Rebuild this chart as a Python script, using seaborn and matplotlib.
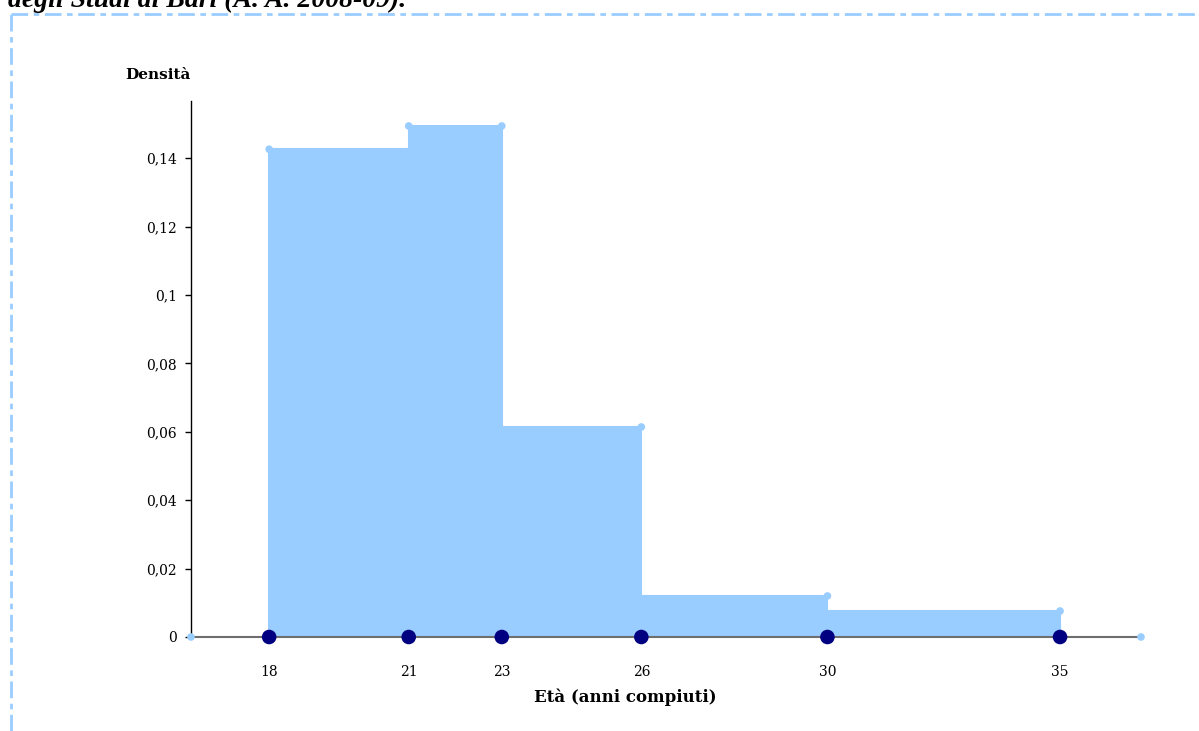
import numpy as np
import pandas as pd
import matplotlib
matplotlib.use("Agg")
import matplotlib.pyplot as plt
from matplotlib.lines import Line2D
from matplotlib.ticker import FuncFormatter
import seaborn as sns

# Data: age classes (bin edges) and densities
edges = [18, 21, 23, 26, 30, 35]
densita = [0.1426, 0.1494, 0.0614, 0.0120, 0.0076]
# light-blue points on the polygon (top corners)
corner_x = [18, 21, 23, 26, 30, 35]
corner_y = [0.1426, 0.1494, 0.1494, 0.0614, 0.0120, 0.0076]
xticks = [18, 21, 23, 26, 30, 35]
yticks = [0, 0.02, 0.04, 0.06, 0.08, 0.10, 0.12, 0.14]
x_range = (16.32, 36.74)
y_top = 0.1567

sns.set_theme(style="white")
plt.rcParams["font.family"] = ["DejaVu Serif"]
plt.rcParams["text.color"] = "black"
plt.rcParams["xtick.color"] = "black"
plt.rcParams["ytick.color"] = "black"

fill_col = "#99CCFF"
navy = "#000080"

fig = plt.figure(figsize=(11.99, 7.31), dpi=100)
ax = fig.add_axes([191 / 1199, 1 - 637 / 731, (1141 - 191) / 1199, (637 - 101) / 731])

df = pd.DataFrame({"eta": edges[:-1], "densita": densita})
sns.histplot(data=df, x="eta", weights="densita", bins=edges, stat="count",
             color=fill_col, alpha=1, edgecolor=fill_col, linewidth=1.5, ax=ax)

# small light-blue dots at the top corners
sns.scatterplot(x=corner_x, y=corner_y, color=fill_col, s=30, edgecolor="none",
                ax=ax, clip_on=False, zorder=3)
# navy dots on the class boundaries
sns.scatterplot(x=edges, y=[0] * len(edges), color=navy, s=110, edgecolor="none",
                ax=ax, clip_on=False, zorder=5)
# end points of the axis
sns.scatterplot(x=list(x_range), y=[0, 0], color=fill_col, s=30, edgecolor="none",
                ax=ax, clip_on=False, zorder=5)

ax.set_xlim(*x_range)
ax.set_ylim(0, y_top)
ax.set_xticks(xticks)
ax.set_yticks(yticks)
ax.yaxis.set_major_formatter(FuncFormatter(lambda v, p: ("%g" % round(v, 2)).replace(".", ",")))
ax.tick_params(axis="y", left=True, length=4, width=1, color="black", labelsize=10, pad=6)
ax.tick_params(axis="x", bottom=False, labelsize=10, pad=14)

for s in ["top", "right"]:
    ax.spines[s].set_visible(False)
ax.spines["left"].set_color("black")
ax.spines["left"].set_linewidth(1)
ax.spines["bottom"].set_color("#6e6e6e")
ax.spines["bottom"].set_linewidth(1.5)
ax.spines["bottom"].set_zorder(4)
ax.set_xlabel("")
ax.set_ylabel("")

fig.text(125 / 1199, 1 - 75 / 731, "Densità", fontsize=11, fontweight="bold",
         ha="left", va="center")
fig.text(625 / 1199, 1 - 697 / 731, "Età (anni compiuti)", fontsize=12,
         fontweight="bold", ha="center", va="center")

# title cut off at the top of the picture
fig.text(8 / 1199, 1 - 7 / 731, "degli Studi di Bari (A. A. 2008-09).",
         fontsize=20, fontweight="bold", fontstyle="italic",
         family=["Liberation Serif", "DejaVu Serif"], ha="left", va="baseline")

# dash-dot frame on top and left
fig.add_artist(Line2D([11 / 1199, 1], [1 - 14 / 731, 1 - 14 / 731], color=fill_col,
                      lw=2, linestyle=(0, (6, 2, 2, 2))))
fig.add_artist(Line2D([11 / 1199, 11 / 1199], [0, 1 - 14 / 731], color=fill_col,
                      lw=2, linestyle=(0, (6, 2, 2, 2))))

fig.savefig("out.png", dpi=100)
